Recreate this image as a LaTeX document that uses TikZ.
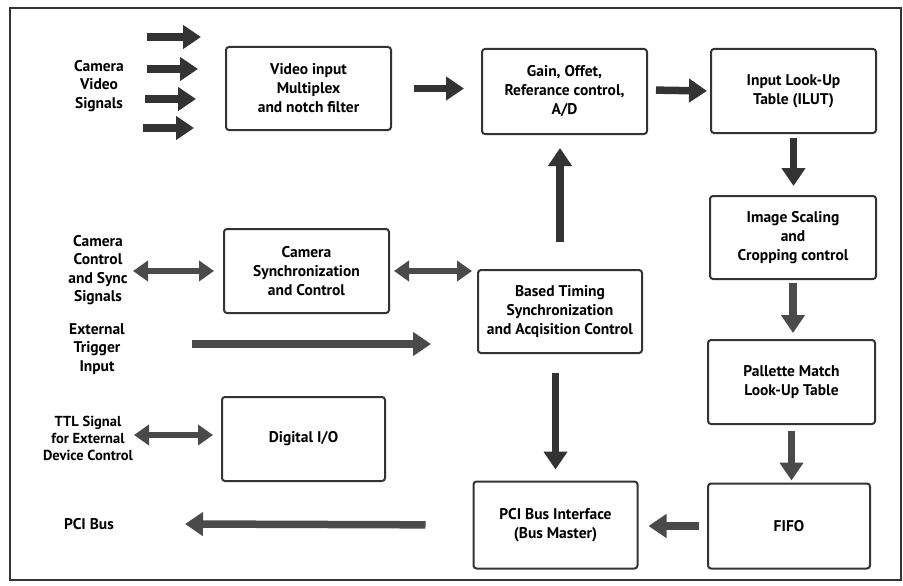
\documentclass[tikz,border=0pt]{standalone}
\usepackage{fontspec}
\setmainfont{PT Sans}
\usetikzlibrary{arrows.meta}
\definecolor{inkdark}{HTML}{333333}
\definecolor{inkmid}{HTML}{4A4A4A}
\begin{document}
\begin{tikzpicture}[x=1pt,y=-1pt,
  font=\bfseries\fontsize{15.5}{19}\selectfont,
  block/.style={draw=inkdark,line width=2pt,rounded corners=3pt,align=center,inner sep=0pt},
  lbl/.style={align=center,inner sep=0pt,font=\bfseries\fontsize{15.5}{18.3}\selectfont},
  fat/.style={draw=inkdark,line width=7.5pt,-{Triangle[width=23pt,length=18pt]}},
  fatmid/.style={fat,draw=inkmid,fill=inkmid},
  twoway/.style={draw=inkmid,line width=6pt,{Triangle[width=20pt,length=15pt]}-{Triangle[width=20pt,length=15pt]}}]
\useasboundingbox (0,0) rectangle (903,586);
% outer frame
\draw[inkdark,line width=1.6pt] (10,8) rectangle (901,580);

% processing blocks
\node[block,minimum width=165,minimum height=83] (video) at (308.5,88.5) {Video input\\Multiplex\\and notch filter};
\node[block,minimum width=165,minimum height=85] (gain) at (564.5,91.5) {Gain, Offet,\\Referance control,\\A/D};
\node[block,minimum width=165,minimum height=84] (lut) at (793.5,91) {Input Look-Up\\Table (ILUT)};
\node[block,minimum width=166,minimum height=83] (scale) at (793,237.5) {Image Scaling\\and\\Cropping control};
\node[block,minimum width=167,minimum height=84] (pal) at (791.5,382) {Pallette Match\\Look-Up Table};
\node[block,minimum width=164,minimum height=83] (based) at (560,311.5) {Based Timing\\Synchronization\\and Acqisition Control};
\node[block,minimum width=165,minimum height=84] (camsync) at (306.5,271) {Camera\\Synchronization\\and Control};
\node[block,minimum width=163,minimum height=84] (dio) at (303.5,439) {Digital I/O};
\node[block,minimum width=164,minimum height=87] (pci) at (555.5,525) {PCI Bus Interface\\(Bus Master)};
\node[block,minimum width=162,minimum height=85] (fifo) at (789,526) {FIFO};

% external signal labels
\node[lbl] (camvid) at (99,86) {Camera\\Video\\Signals};
\node[lbl] (camctl) at (98,270) {Camera\\Control\\and Sync\\Signals};
\node[lbl] (trig) at (97,349) {External\\Trigger\\Input};
\node[lbl,font=\bfseries\fontsize{14.5}{17}\selectfont] (ttl) at (88,438) {TTL Signal\\for External\\Device Control};
\node[lbl] (pcibus) at (89,524) {PCI Bus};

% free ends of the external connectors
\coordinate (v1a) at (147,37);  \coordinate (v1b) at (201,37);
\coordinate (v2a) at (147,69);  \coordinate (v2b) at (198,69);
\coordinate (v3a) at (145,99);  \coordinate (v3b) at (196,99);
\coordinate (v4a) at (143,128); \coordinate (v4b) at (194,128);
\coordinate (ctlend) at (133,271);
\coordinate (trigstart) at (192,344);
\coordinate (ttlend) at (134,435);
\coordinate (bustip) at (185,524);

% camera video inputs
\foreach \i in {1,...,4} \draw[fat] (v\i a) -- (v\i b);

% main data path
\draw[fat,shorten <=22pt,shorten >=17pt] (video.east) -- (video.east -| gain.west);
\draw[fat,shorten <=8pt,shorten >=3pt] (gain.west -| gain.east) ++(0,-1.5) -- (lut.west);
\draw[fat,shorten <=4pt,shorten >=9pt] (lut.south) -- (lut.south |- scale.north);
\draw[fatmid,shorten <=3pt,shorten >=6pt] (scale.south) -- (scale.south |- pal.north);
\draw[fatmid,shorten <=6pt,shorten >=2pt] (pal.south) -- (pal.south |- fifo.north);
\draw[fatmid,shorten <=8pt,shorten >=10pt] (fifo.west) -- (fifo.west -| pci.east);
\draw[fatmid,shorten <=47pt] (pci.west) -- (bustip);

% timing control paths
\draw[fat,shorten <=27pt,shorten >=13pt] (based.north) -- (based.north |- gain.south);
\draw[fat,shorten <=19pt,shorten >=11pt] (pci.north |- based.south) -- (pci.north);
\draw[fatmid] (trigstart) -- ([xshift=-46pt]trigstart -| based.west);

% bidirectional links
\draw[twoway,shorten >=9pt] (ctlend) -- (ctlend -| camsync.west);
\draw[twoway,shorten <=4pt,shorten >=5pt] (camsync.east) -- (camsync.east -| based.west);
\draw[twoway,shorten >=8pt] (ttlend) -- (ttlend -| dio.west);
\end{tikzpicture}
\end{document}
